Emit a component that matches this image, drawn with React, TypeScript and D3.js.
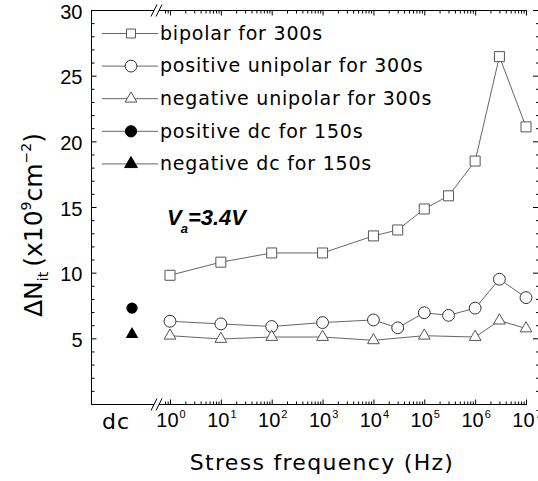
import React, { useRef, useEffect } from 'react';
import * as d3 from 'd3';

// stress frequencies (Hz) and interface trap generation (x10^9 cm^-2)
const freqs = [1, 10, 100, 1000, 1e4, 3e4, 1e5, 3e5, 1e6, 3e6, 1e7];
const bipolar = [9.8, 10.8, 11.5, 11.5, 12.8, 13.25, 14.85, 15.85, 18.5, 26.45, 21.1];
const posUnipolar = [6.3, 6.1, 5.9, 6.2, 6.4, 5.8, 6.95, 6.75, 7.3, 9.5, 8.1];
const negFreqs = [1, 10, 100, 1000, 1e4, 1e5, 1e6, 3e6, 1e7];
const negUnipolar = [5.2, 4.95, 5.1, 5.1, 4.85, 5.2, 5.1, 6.35, 5.75];
const posDc = 7.3;
const negDc = 5.3;

const legendLabels = [
  'bipolar for 300s',
  'positive unipolar for 300s',
  'negative unipolar for 300s',
  'positive dc for 150s',
  'negative dc for 150s',
];
const yTickValues = [5, 10, 15, 20, 25, 30];
const xExponents = [0, 1, 2, 3, 4, 5, 6, 7];

const FONT = 'DejaVu Sans, sans-serif';
const NUM_FONT = 'Liberation Sans, Arial, sans-serif';

function App() {
  const ref = useRef<SVGSVGElement>(null);

  useEffect(() => {
    const svg = d3.select(ref.current);
    svg.selectAll('*').remove();

    const left = 91, top = 10, bottom = 404, right = 527, rightAxis = 538;
    const breakA = 154, breakB = 159;

    const y = d3.scaleLinear().domain([0, 30]).range([bottom, top]);
    const x = d3.scaleLog().domain([1, 1e7]).range([170, 526]);
    const xDc = d3.scaleOrdinal<string, number>().domain(['dc']).range([132]);

    const minorY = d3.range(1, 30).filter(v => v % 5 !== 0);
    const minorX: number[] = [0.8, 0.9];
    for (let k = 0; k < 7; k++) for (let m = 2; m <= 9; m++) minorX.push(m * Math.pow(10, k));
    const majorX = xExponents.map(e => Math.pow(10, e));

    // frame with axis breaks
    const frame = svg.append('g').attr('stroke', '#000').attr('stroke-width', 1).attr('fill', 'none');
    frame.append('line').attr('x1', left + 0.5).attr('x2', left + 0.5).attr('y1', top).attr('y2', bottom + 0.5);
    [top + 0.5, bottom + 0.5].forEach(yy => {
      frame.append('line').attr('x1', left).attr('x2', breakA).attr('y1', yy).attr('y2', yy);
      frame.append('line').attr('x1', breakB).attr('x2', right).attr('y1', yy).attr('y2', yy);
      [breakA, breakB].forEach(bx => {
        frame.append('line')
          .attr('x1', bx - 3).attr('y1', yy + 6)
          .attr('x2', bx + 3).attr('y2', yy - 6);
      });
    });

    const tickStyle = (g: d3.Selection<SVGGElement, unknown, null, undefined>) => {
      g.select('.domain').remove();
      g.selectAll('line').attr('stroke', '#000');
    };

    // y axes
    svg.append('g').attr('transform', `translate(${left + 0.5},0)`)
      .call(d3.axisLeft(y).tickValues(yTickValues).tickSize(-5).tickPadding(9).tickFormat(d3.format('d')))
      .call(tickStyle)
      .call(g => g.selectAll('text').attr('font-family', NUM_FONT).attr('font-size', 20).attr('fill', '#000').attr('dy', '0.4em'));
    svg.append('g').attr('transform', `translate(${left + 0.5},0)`)
      .call(d3.axisLeft(y).tickValues(minorY).tickSize(-3).tickFormat(() => ''))
      .call(tickStyle);
    svg.append('g').attr('transform', `translate(${rightAxis},0)`)
      .call(d3.axisRight(y).tickValues(yTickValues).tickSize(-5).tickFormat(() => ''))
      .call(tickStyle);
    svg.append('g').attr('transform', `translate(${rightAxis},0)`)
      .call(d3.axisRight(y).tickValues(minorY).tickSize(-2).tickFormat(() => ''))
      .call(tickStyle);

    // x axes (log part)
    [[bottom + 0.5, d3.axisBottom], [top + 0.5, d3.axisTop]].forEach(([yy, axisFn]: any) => {
      svg.append('g').attr('transform', `translate(0,${yy})`)
        .call(axisFn(x).tickValues(majorX).tickSize(-5).tickFormat(() => ''))
        .call(tickStyle);
      svg.append('g').attr('transform', `translate(0,${yy})`)
        .call(axisFn(x).tickValues(minorX).tickSize(-3).tickFormat(() => ''))
        .call(tickStyle);
    });

    // x tick labels 10^n
    const xl = svg.append('g').attr('font-family', NUM_FONT).attr('fill', '#000');
    xExponents.forEach(e => {
      const t = xl.append('text')
        .attr('x', x(Math.pow(10, e)) + 1)
        .attr('y', bottom + 23)
        .attr('text-anchor', 'middle')
        .attr('font-size', 20);
      t.append('tspan').text('10');
      t.append('tspan').attr('font-size', 11).attr('dy', -9).attr('dx', 1).text(String(e));
    });
    svg.append('text')
      .attr('x', xDc('dc') - 16).attr('y', bottom + 25)
      .attr('text-anchor', 'middle')
      .attr('font-family', FONT).attr('font-size', 22).attr('letter-spacing', 1)
      .text('dc');

    // axis titles
    svg.append('text')
      .attr('x', 322).attr('y', 470)
      .attr('text-anchor', 'middle')
      .attr('font-family', FONT).attr('font-size', 22).attr('letter-spacing', 1.3)
      .text('Stress frequency (Hz)');

    const yt = svg.append('text')
      .attr('transform', 'translate(42,225) rotate(-90)')
      .attr('text-anchor', 'middle')
      .attr('font-family', FONT).attr('font-size', 25);
    yt.append('tspan').text('ΔN');
    yt.append('tspan').attr('font-size', 14).attr('dy', 6).text('it');
    yt.append('tspan').attr('dy', -6).attr('dx', 5).text('(x10');
    yt.append('tspan').attr('font-size', 14).attr('dy', -11).text('9');
    yt.append('tspan').attr('dy', 11).text('cm');
    yt.append('tspan').attr('font-size', 14).attr('dy', -11).text('−2');
    yt.append('tspan').attr('dy', 11).text(')');

    // V_a annotation
    const va = svg.append('text')
      .attr('x', 167).attr('y', 225)
      .attr('font-family', NUM_FONT).attr('font-size', 22)
      .attr('font-weight', 'bold').attr('font-style', 'italic');
    va.append('tspan').text('V');
    va.append('tspan').attr('font-size', 13).attr('dy', 8).attr('dx', -1).text('a');
    va.append('tspan').attr('dy', -8).attr('dx', 0).text('=3.4V');

    const lineColor = '#666';
    const sym = (type: d3.SymbolType, size: number) => d3.symbol().type(type).size(size)();

    const drawSeries = (xs: number[], ys: number[], type: d3.SymbolType, size: number, stroke: string) => {
      const pts = xs.map((f, i) => [x(f), y(ys[i])] as [number, number]);
      svg.append('path')
        .attr('d', d3.line()(pts))
        .attr('fill', 'none').attr('stroke', lineColor).attr('stroke-width', 1);
      svg.append('g').selectAll('path').data(pts).enter().append('path')
        .attr('transform', d => `translate(${d[0]},${d[1]})`)
        .attr('d', sym(type, size))
        .attr('fill', '#fff').attr('stroke', stroke).attr('stroke-width', 1);
    };

    drawSeries(freqs, bipolar, d3.symbolSquare, 100, '#555');
    drawSeries(freqs, posUnipolar, d3.symbolCircle, 110, '#333');
    drawSeries(negFreqs, negUnipolar, d3.symbolTriangle, 60, '#555');

    // dc points
    svg.append('path')
      .attr('transform', `translate(${xDc('dc')},${y(posDc)})`)
      .attr('d', sym(d3.symbolCircle, 100)).attr('fill', '#000');
    svg.append('path')
      .attr('transform', `translate(${xDc('dc')},${y(negDc)})`)
      .attr('d', sym(d3.symbolTriangle, 70)).attr('fill', '#000');

    // legend
    const legendSyms: [d3.SymbolType, number, string, string][] = [
      [d3.symbolSquare, 80, '#fff', '#555'],
      [d3.symbolCircle, 110, '#fff', '#333'],
      [d3.symbolTriangle, 60, '#fff', '#555'],
      [d3.symbolCircle, 100, '#000', '#000'],
      [d3.symbolTriangle, 70, '#000', '#000'],
    ];
    const legend = svg.append('g').selectAll('g').data(legendLabels).enter().append('g')
      .attr('transform', (d, i) => `translate(0,${33 + i * 32.6})`);
    legend.append('line')
      .attr('x1', 102).attr('x2', 158).attr('y1', 0.5).attr('y2', 0.5)
      .attr('stroke', lineColor).attr('stroke-width', 1);
    legend.append('path')
      .attr('transform', 'translate(131,0.5)')
      .attr('d', (d, i) => sym(legendSyms[i][0], legendSyms[i][1]))
      .attr('fill', (d, i) => legendSyms[i][2])
      .attr('stroke', (d, i) => legendSyms[i][3]);
    legend.append('text')
      .attr('x', 160).attr('dy', '0.36em')
      .attr('font-family', FONT).attr('font-size', 19).attr('letter-spacing', 0.8)
      .text(d => d);
  }, []);

  return (
    <svg ref={ref} width={538} height={481}
      style={{ position: 'absolute', left: 0, top: 0, background: '#fff' }} />
  );
}

export default App;
